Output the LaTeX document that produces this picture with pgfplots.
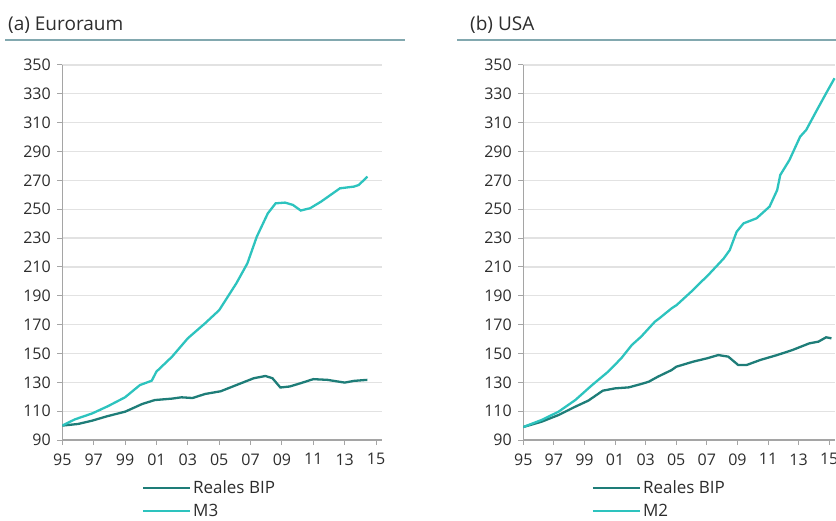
\documentclass[border=0pt]{standalone}
\usepackage{fontspec}
\setmainfont{Open Sans}
\usepackage{pgfplots}
\pgfplotsset{compat=1.18}
\definecolor{bipcol}{RGB}{30,125,120}
\definecolor{mcol}{RGB}{45,195,190}
\definecolor{gridgray}{RGB}{226,226,226}
\definecolor{axgray}{RGB}{165,165,165}
\definecolor{txtgray}{RGB}{45,45,45}
\definecolor{titleline}{RGB}{130,168,175}

\pgfplotstableread{
x y
1995.0 100
1995.8 104.3
1996.9 108.4
1997.9 113.4
1999.0 119.6
1999.95 128.1
2000.7 131.1
2001.0 137.4
2002.0 147.8
2003.0 160.5
2004.1 170.9
2005.0 180
2006.1 198.7
2006.8 212.5
2007.4 231
2008.1 247.1
2008.6 254.1
2009.2 254.6
2009.7 253
2010.2 249.1
2010.8 250.7
2011.5 255.3
2012.1 259.9
2012.7 264.5
2013.6 265.7
2013.9 266.8
2014.45 272.6
}\euMthree

\pgfplotstableread{
x y
1995.0 100
1996.0 101.1
1996.9 103.4
1997.9 106.6
1999.0 109.6
2000.1 115
2000.9 117.7
2002.0 118.7
2002.6 119.6
2003.3 119.1
2004.1 121.9
2005.1 123.8
2006.1 128.1
2007.2 132.8
2007.95 134.4
2008.4 132.8
2008.9 126.4
2009.5 127.1
2010.2 129.4
2011.0 132.2
2011.9 131.7
2013.0 129.8
2013.6 131
2014.45 131.7
}\euBIP

\pgfplotstableread{
x y
1995.0 99
1996.2 103.9
1997.3 109.6
1998.4 117.7
1999.5 128.1
2000.55 137.4
2001.4 146.6
2002.1 155.9
2002.7 161.6
2003.6 172
2003.9 174.4
2004.7 181.3
2005.03 183.6
2006.1 194
2007.2 205.6
2008.1 215.8
2008.5 221.7
2008.95 234.4
2009.4 240.2
2010.25 243.7
2011.1 251.8
2011.6 263.3
2011.8 273.7
2012.4 284.1
2013.1 300.3
2013.5 305
2014.2 318.8
2014.8 330.4
2015.35 340.8
}\usMtwo

\pgfplotstableread{
x y
1995.0 99
1996.2 102.7
1997.3 107.3
1998.4 113.1
1999.25 117.3
2000.2 124.2
2001.0 125.8
2001.9 126.5
2002.7 128.8
2003.2 130.4
2003.8 133.9
2004.7 138.5
2005.0 140.8
2006.1 144.3
2007.0 146.6
2007.75 148.9
2008.4 147.8
2009.05 142
2009.6 142
2010.5 145.5
2011.6 148.9
2012.6 152.4
2013.7 157
2014.3 158.2
2014.8 161.2
2015.15 160.5
}\usBIP

\pgfplotsset{
  panel/.style={
    scale only axis,
    height=375pt,
    anchor=south west,
    xmin=1995, xmax=2015.4,
    ymin=90, ymax=350,
    ytick={90,110,...,350},
    xtick={1995,1997,...,2015},
    xticklabels={95,97,99,01,03,05,07,09,11,13,15},
    axis lines*=left,
    axis line style={axgray, line width=1.2pt},
    tick align=outside,
    major tick length=5pt,
    tick style={axgray, line width=1pt},
    ymajorgrids,
    grid style={gridgray, line width=1.2pt},
    /pgf/number format/assume math mode=true,
    /pgf/number format/1000 sep={},
    tick label style={font=\fontsize{16}{18}\selectfont, text=txtgray},
    xticklabel style={yshift=-5pt},
    yticklabel style={xshift=-3pt},
    legend cell align=left,
    legend style={draw=none, fill=none, font=\fontsize{17}{19}\selectfont, text=txtgray,
      row sep=5pt, inner sep=0pt, anchor=north west},
    legend image code/.code={\draw[##1] (0pt,0pt) -- (47pt,0pt);},
  },
}

\begin{document}
\begin{tikzpicture}
\path[use as bounding box] (0pt,0pt) rectangle (836pt,-521pt);

\node[anchor=base west, inner sep=0pt, font=\fontsize{19}{22}\selectfont, text=txtgray] at (8pt,-31pt) {(a) Euroraum};
\draw[titleline, line width=1.3pt] (5pt,-40pt) -- (405pt,-40pt);
\node[anchor=base west, inner sep=0pt, font=\fontsize{19}{22}\selectfont, text=txtgray] at (470pt,-31pt) {(b) USA};
\draw[titleline, line width=1.3pt] (457pt,-40pt) -- (836pt,-40pt);

\begin{axis}[panel, at={(62.3pt,-440pt)}, width=320pt,
  legend style={at={(0.248,-0.102)}}]
\addplot[bipcol, line width=2.3pt, no markers] table[x=x,y=y] {\euBIP};
\addlegendentry{Reales BIP}
\addplot[mcol, line width=2.3pt, no markers] table[x=x,y=y] {\euMthree};
\addlegendentry{M3}
\end{axis}

\begin{axis}[panel, at={(523.3pt,-440pt)}, width=312pt,
  legend style={at={(0.219,-0.102)}}]
\addplot[bipcol, line width=2.3pt, no markers] table[x=x,y=y] {\usBIP};
\addlegendentry{Reales BIP}
\addplot[mcol, line width=2.3pt, no markers] table[x=x,y=y] {\usMtwo};
\addlegendentry{M2}
\end{axis}
\end{tikzpicture}
\end{document}
